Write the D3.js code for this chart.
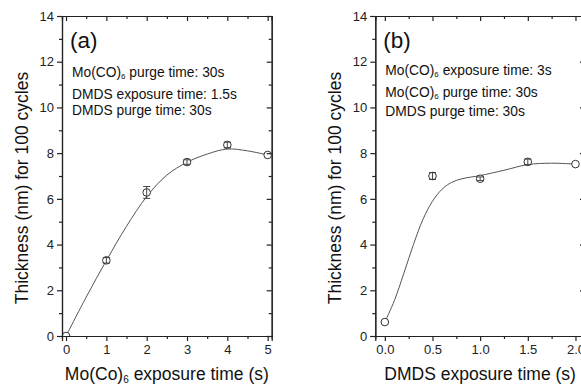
<!DOCTYPE html>
<html>
<head>
<meta charset="utf-8">
<script src="https://cdn.jsdelivr.net/npm/d3@7"></script>
<style>
  body { margin: 0; background: #fff; }
  svg { display: block; font-family: "Liberation Sans", Arial, sans-serif; }
  .axis path, .axis line { stroke: #222; stroke-width: 1.2; }
  .axis text { font-size: 13px; fill: #222; }
</style>
</head>
<body>
<div id="chart"></div>
<script>
// panel (a): Mo(CO)6 exposure time series
const aTime = [0, 1, 2, 3, 4, 5];
const aThick = [0, 3.31, 6.28, 7.61, 8.36, 7.92];
const aErr = [0, 0.12, 0.26, 0.1, 0.12, 0.05];
// fitted curve
const aFitX = [0, 0.5, 1, 1.5, 2, 2.5, 3, 3.5, 4, 4.5, 5];
const aFitY = [0, 1.7, 3.3, 4.8, 6.1, 7.04, 7.6, 7.96, 8.18, 8.1, 7.92];

// panel (b): DMDS exposure time series
const bTime = [0, 0.5, 1.0, 1.5, 2.0];
const bThick = [0.61, 7.0, 6.88, 7.62, 7.52];
const bErr = [0.04, 0.15, 0.08, 0.12, 0.05];
const bFitX = [0, 0.1, 0.2, 0.3, 0.4, 0.5, 0.6, 0.7, 0.8, 0.9, 1.0, 1.25, 1.5, 1.75, 2.0];
const bFitY = [0.6, 1.55, 2.75, 4.0, 5.1, 5.9, 6.42, 6.72, 6.87, 6.95, 7.02, 7.25, 7.5, 7.56, 7.52];

const yTicks = [0, 2, 4, 6, 8, 10, 12, 14];
const yMinor = [1, 3, 5, 7, 9, 11, 13];

const W = 581, H = 386;
const svg = d3.select("#chart").append("svg")
  .attr("width", W)
  .attr("height", H);

function drawPanel(p) {
  let x = d3.scaleLinear().domain(p.xDomain).range([p.left, p.right]);
  let y = d3.scaleLinear().domain([0, 14]).range([336, 16]);
  let g = svg.append("g");

  let clipId = "clip-" + p.id;
  svg.append("clipPath").attr("id", clipId)
    .append("rect")
    .attr("x", p.left).attr("y", 16)
    .attr("width", p.right - p.left).attr("height", 320);

  // fitted line
  let pts = p.fitX.map((v, i) => [v, p.fitY[i]]);
  g.append("path")
    .datum(pts)
    .attr("fill", "none")
    .attr("stroke", "#555")
    .attr("stroke-width", 1)
    .attr("d", d3.line().x(d => x(d[0])).y(d => y(d[1])).curve(d3.curveCatmullRom.alpha(0.5)));

  // markers + error bars
  let data = p.xs.map((v, i) => ({ x: v, y: p.ys[i], e: p.err[i] }));
  let m = g.append("g").attr("clip-path", "url(#" + clipId + ")")
    .selectAll("g.pt").data(data).enter().append("g").attr("class", "pt");

  m.append("circle")
    .attr("cx", d => x(d.x)).attr("cy", d => y(d.y)).attr("r", 3.8)
    .attr("fill", "#fff").attr("stroke", "#333").attr("stroke-width", 1);

  m.filter(d => d.e > 0.05).append("path")
    .attr("fill", "none").attr("stroke", "#333").attr("stroke-width", 0.9)
    .attr("d", d => {
      let cx = x(d.x), y0 = y(d.y - d.e), y1 = y(d.y + d.e);
      return "M" + cx + "," + y0 + "V" + y1 +
        "M" + (cx - 3.5) + "," + y0 + "H" + (cx + 3.5) +
        "M" + (cx - 3.5) + "," + y1 + "H" + (cx + 3.5);
    });

  // axes
  g.append("g").attr("class", "axis")
    .attr("transform", "translate(0,336)")
    .call(d3.axisBottom(x).tickValues(p.xTicks).tickSize(5).tickPadding(4).tickFormat(p.fmt));
  g.append("g").attr("class", "axis")
    .attr("transform", "translate(0,336)")
    .call(d3.axisBottom(x).tickValues(p.xMinor).tickSize(3).tickFormat(""));
  g.append("g").attr("class", "axis")
    .attr("transform", "translate(" + p.left + ",0)")
    .call(d3.axisLeft(y).tickValues(yTicks).tickSize(5).tickPadding(3));
  g.append("g").attr("class", "axis")
    .attr("transform", "translate(" + p.left + ",0)")
    .call(d3.axisLeft(y).tickValues(yMinor).tickSize(3).tickFormat(""));
  // mirror axes, ticks inward
  g.append("g").attr("class", "axis")
    .attr("transform", "translate(0,16)")
    .call(d3.axisTop(x).tickValues(p.xTicks).tickSize(-5).tickFormat(""));
  g.append("g").attr("class", "axis")
    .attr("transform", "translate(0,16)")
    .call(d3.axisTop(x).tickValues(p.xMinor).tickSize(-3).tickFormat(""));
  g.append("g").attr("class", "axis")
    .attr("transform", "translate(" + p.right + ",0)")
    .call(d3.axisRight(y).tickValues(yTicks).tickSize(-5).tickFormat(""));
  g.append("g").attr("class", "axis")
    .attr("transform", "translate(" + p.right + ",0)")
    .call(d3.axisRight(y).tickValues(yMinor).tickSize(-3).tickFormat(""));

  // titles
  g.append("text")
    .attr("transform", "translate(" + (p.left - 34) + ",188) rotate(-90)")
    .attr("text-anchor", "middle")
    .style("font-size", "17.5px").attr("fill", "#111")
    .text("Thickness (nm) for 100 cycles");

  let xt = g.append("text")
    .attr("x", (p.left + p.right) / 2).attr("y", 380)
    .attr("text-anchor", "middle")
    .style("font-size", "17.5px").attr("fill", "#111");
  p.xTitle.forEach(part => {
    let t = xt.append("tspan").text(part.t);
    if (part.sub) t.attr("baseline-shift", "-30%").style("font-size", "10px");
  });

  g.append("text")
    .attr("x", p.left + 8).attr("y", 48)
    .style("font-size", "22.5px").attr("fill", "#111")
    .text(p.tag);

  p.notes.forEach((line, i) => {
    let t = g.append("text")
      .attr("x", p.left + 10).attr("y", p.noteY[i])
      .style("font-size", "13.8px").attr("fill", "#111");
    line.forEach(part => {
      let s = t.append("tspan").text(part.t);
      if (part.sub) s.attr("baseline-shift", "-30%").style("font-size", "8px");
    });
  });
}

drawPanel({
  id: "a", left: 62, right: 271.7, xDomain: [-0.1, 5.1],
  xTicks: [0, 1, 2, 3, 4, 5], xMinor: [0.5, 1.5, 2.5, 3.5, 4.5],
  fmt: d3.format("d"),
  xs: aTime, ys: aThick, err: aErr, fitX: aFitX, fitY: aFitY,
  tag: "(a)",
  xTitle: [{ t: "Mo(Co)" }, { t: "6", sub: true }, { t: " exposure time (s)" }],
  notes: [
    [{ t: "Mo(CO)" }, { t: "6", sub: true }, { t: " purge time: 30s" }],
    [{ t: "DMDS exposure time: 1.5s" }],
    [{ t: "DMDS purge time: 30s" }]
  ],
  noteY: [77, 99, 115]
});

drawPanel({
  id: "b", left: 375.3, right: 585, xDomain: [-0.1, 2.1],
  xTicks: [0, 0.5, 1, 1.5, 2], xMinor: [0.25, 0.75, 1.25, 1.75],
  fmt: d3.format(".1f"),
  xs: bTime, ys: bThick, err: bErr, fitX: bFitX, fitY: bFitY,
  tag: "(b)",
  xTitle: [{ t: "DMDS exposure time (s)" }],
  notes: [
    [{ t: "Mo(CO)" }, { t: "6", sub: true }, { t: " exposure time: 3s" }],
    [{ t: "Mo(CO)" }, { t: "6", sub: true }, { t: " purge time: 30s" }],
    [{ t: "DMDS purge time: 30s" }]
  ],
  noteY: [75, 97, 116]
});
</script>
</body>
</html>
